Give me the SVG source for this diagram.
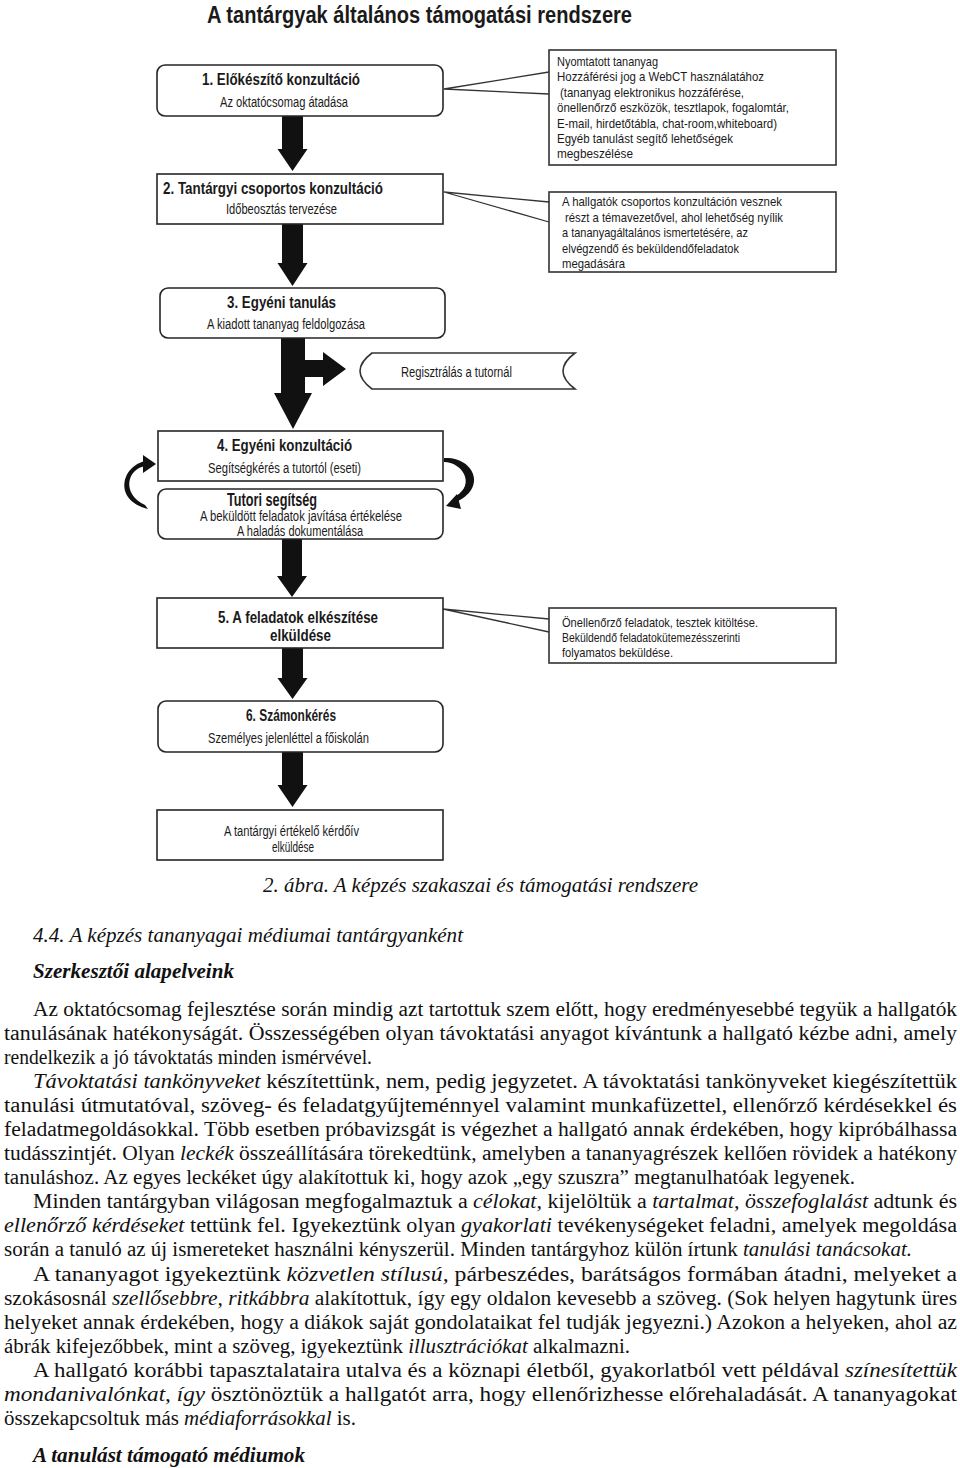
<svg xmlns="http://www.w3.org/2000/svg" width="960" height="1468" viewBox="0 0 960 1468">
<style>
.bg{fill:#ffffff}
.box{fill:#ffffff;stroke:#262626;stroke-width:1.6}
.note{fill:#ffffff;stroke:#333333;stroke-width:1.6}
.s{font-family:"Liberation Sans",Arial,sans-serif;fill:#1a1a1a}
.tb{font-weight:bold;font-size:17px}
.ts{font-size:14px}
.tn{font-size:13.5px}
.arr{fill:#111111}
.call{stroke:#333333;stroke-width:1.3;fill:none}
.b{font-family:"Liberation Serif","Times New Roman",serif;font-size:20px;fill:#111111}
.i{font-style:italic}
.bi{font-style:italic;font-weight:bold}
</style>
<rect class="bg" x="0" y="0" width="960" height="1468"/>

<text id="title" class="s" x="207" y="23" font-size="23" font-weight="bold" textLength="425" lengthAdjust="spacingAndGlyphs">A tantárgyak általános támogatási rendszere</text>

<g id="connectors">
  <polygon class="arr" points="282,116 303,116 303,149 307.5,149 292.5,171 277.5,149 282,149"/>
  <polygon class="arr" points="282,224 303,224 303,263 307.5,263 292.5,286 277.5,263 282,263"/>
  <polygon class="arr" points="281,338 305,338 305,360 323,360 323,352 346,369 323,386 323,377 305,377 305,393 312,393 293,429 274,393 281,393"/>
  <polygon class="arr" points="282,539 302,539 302,576 307,576 292,597 277,576 282,576"/>
  <polygon class="arr" points="282,648 303,648 303,678 307.5,678 292.5,699 277.5,678 282,678"/>
  <polygon class="arr" points="282,752 303,752 303,785 307.5,785 292.5,807 277.5,785 282,785"/>
  <polyline class="call" points="549,72 444,89 549,94"/>
  <polyline class="call" points="549,202 444,192 549,222"/>
  <polyline class="call" points="549,619 443,609 549,632"/>
  <path class="arr" d="M146,461 C122,465 112,500 148,509 L145,505 C121,494 127,468 146,466 Z"/>
  <polygon class="arr" points="143,455 156,464 143,473"/>
  <path class="arr" d="M444,458 C472,456 488,486 458,501 L456,496 C476,484 462,462 444,462 Z"/>
  <polygon class="arr" points="446,506 457,494 461,509"/>
</g>

<g id="box1">
  <rect class="box" x="157" y="65" width="286" height="51" rx="8"/>
  <text class="s tb" x="202" y="85" textLength="158" lengthAdjust="spacingAndGlyphs">1. Előkészítő konzultáció</text>
  <text class="s ts" x="220" y="107" textLength="128" lengthAdjust="spacingAndGlyphs">Az oktatócsomag átadása</text>
</g>

<g id="note1">
  <rect class="note" x="549" y="50" width="287" height="115"/>
  <text class="s tn" x="557" y="66" textLength="101" lengthAdjust="spacingAndGlyphs">Nyomtatott tananyag</text>
  <text class="s tn" x="557" y="81.4" textLength="207" lengthAdjust="spacingAndGlyphs">Hozzáférési jog a WebCT használatához</text>
  <text class="s tn" x="560" y="96.8" textLength="184" lengthAdjust="spacingAndGlyphs">(tananyag elektronikus hozzáférése,</text>
  <text class="s tn" x="557" y="112.2" textLength="232" lengthAdjust="spacingAndGlyphs">önellenőrző eszközök, tesztlapok, fogalomtár,</text>
  <text class="s tn" x="557" y="127.6" textLength="220" lengthAdjust="spacingAndGlyphs">E-mail, hirdetőtábla, chat-room,whiteboard)</text>
  <text class="s tn" x="557" y="143" textLength="176" lengthAdjust="spacingAndGlyphs">Egyéb tanulást segítő lehetőségek</text>
  <text class="s tn" x="557" y="158.4" textLength="76" lengthAdjust="spacingAndGlyphs">megbeszélése</text>
</g>

<g id="box2">
  <rect class="box" x="157" y="174" width="286" height="50"/>
  <text class="s tb" x="163" y="194" textLength="220" lengthAdjust="spacingAndGlyphs">2. Tantárgyi csoportos konzultáció</text>
  <text class="s ts" x="226" y="214" textLength="111" lengthAdjust="spacingAndGlyphs">Időbeosztás tervezése</text>
</g>

<g id="note2">
  <rect class="note" x="549" y="192" width="287" height="80"/>
  <text class="s tn" x="562" y="206" textLength="220" lengthAdjust="spacingAndGlyphs">A hallgatók csoportos konzultáción vesznek</text>
  <text class="s tn" x="565" y="221.5" textLength="218" lengthAdjust="spacingAndGlyphs">részt a témavezetővel, ahol lehetőség nyílik</text>
  <text class="s tn" x="562" y="237" textLength="186" lengthAdjust="spacingAndGlyphs">a tananyagáltalános ismertetésére, az</text>
  <text class="s tn" x="562" y="252.5" textLength="177" lengthAdjust="spacingAndGlyphs">elvégzendő és beküldendőfeladatok</text>
  <text class="s tn" x="562" y="268" textLength="63" lengthAdjust="spacingAndGlyphs">megadására</text>
</g>

<g id="box3">
  <rect class="box" x="160" y="288" width="285" height="50" rx="8"/>
  <text class="s tb" x="227" y="308" textLength="109" lengthAdjust="spacingAndGlyphs">3. Egyéni tanulás</text>
  <text class="s ts" x="207" y="329" textLength="158" lengthAdjust="spacingAndGlyphs">A kiadott tananyag feldolgozása</text>
</g>

<g id="reg">
  <path class="note" d="M372,353 L575,353 Q551,371 575,389 L372,389 Q348,371 372,353 Z"/>
  <text class="s ts" x="401" y="377" textLength="111" lengthAdjust="spacingAndGlyphs">Regisztrálás a tutornál</text>
</g>

<g id="box4">
  <rect class="box" x="158" y="431" width="285" height="50"/>
  <text class="s tb" x="217" y="451" textLength="135" lengthAdjust="spacingAndGlyphs">4. Egyéni konzultáció</text>
  <text class="s ts" x="208" y="473" textLength="153" lengthAdjust="spacingAndGlyphs">Segítségkérés a tutortól (eseti)</text>
</g>

<g id="tutor">
  <rect class="box" x="158" y="489" width="285" height="50" rx="8"/>
  <text class="s" x="227" y="506" font-size="18.5" font-weight="bold" textLength="90" lengthAdjust="spacingAndGlyphs">Tutori segítség</text>
  <text class="s ts" x="200" y="521" textLength="202" lengthAdjust="spacingAndGlyphs">A beküldött feladatok javítása értékelése</text>
  <text class="s ts" x="237" y="536" textLength="126" lengthAdjust="spacingAndGlyphs">A haladás dokumentálása</text>
</g>

<g id="box5">
  <rect class="box" x="157" y="598" width="286" height="50"/>
  <text class="s tb" x="218" y="623" textLength="160" lengthAdjust="spacingAndGlyphs">5. A feladatok elkészítése</text>
  <text class="s tb" x="270" y="641" textLength="61" lengthAdjust="spacingAndGlyphs">elküldése</text>
</g>

<g id="note3">
  <rect class="note" x="549" y="608" width="287" height="55"/>
  <text class="s tn" x="562" y="627" textLength="196" lengthAdjust="spacingAndGlyphs">Önellenőrző feladatok, tesztek kitöltése.</text>
  <text class="s tn" x="562" y="642" textLength="178" lengthAdjust="spacingAndGlyphs">Beküldendő feladatokütemezésszerinti</text>
  <text class="s tn" x="562" y="657" textLength="111" lengthAdjust="spacingAndGlyphs">folyamatos beküldése.</text>
</g>

<g id="box6">
  <rect class="box" x="158" y="701" width="285" height="51" rx="8"/>
  <text class="s tb" x="246" y="721" textLength="90" lengthAdjust="spacingAndGlyphs">6. Számonkérés</text>
  <text class="s ts" x="208" y="743" textLength="161" lengthAdjust="spacingAndGlyphs">Személyes jelenléttel a főiskolán</text>
</g>

<g id="box7">
  <rect class="box" x="157" y="810" width="286" height="50"/>
  <text class="s ts" x="224" y="836" textLength="135" lengthAdjust="spacingAndGlyphs">A tantárgyi értékelő kérdőív</text>
  <text class="s ts" x="272" y="852" textLength="42" lengthAdjust="spacingAndGlyphs">elküldése</text>
</g>

<text class="b i" x="263" y="892" font-size="19" textLength="435" lengthAdjust="spacingAndGlyphs">2. ábra. A képzés szakaszai és támogatási rendszere</text>

<text class="b i" x="33" y="942" textLength="430" lengthAdjust="spacingAndGlyphs">4.4. A képzés tananyagai médiumai tantárgyanként</text>
<text class="b bi" x="33" y="978" textLength="201" lengthAdjust="spacingAndGlyphs">Szerkesztői alapelveink</text>

<text class="b" x="33" y="1016" textLength="924" lengthAdjust="spacingAndGlyphs">Az oktatócsomag fejlesztése során mindig azt tartottuk szem előtt, hogy eredményesebbé tegyük a hallgatók</text>
<text class="b" x="4" y="1040" textLength="953" lengthAdjust="spacingAndGlyphs">tanulásának hatékonyságát. Összességében olyan távoktatási anyagot kívántunk a hallgató kézbe adni, amely</text>
<text class="b" x="4" y="1064" textLength="368" lengthAdjust="spacingAndGlyphs">rendelkezik a jó távoktatás minden ismérvével.</text>
<text class="b" x="33" y="1088" textLength="924" lengthAdjust="spacingAndGlyphs"><tspan class="i">Távoktatási tankönyveket</tspan> készítettünk, nem, pedig jegyzetet. A távoktatási tankönyveket kiegészítettük</text>
<text class="b" x="4" y="1112" textLength="953" lengthAdjust="spacingAndGlyphs">tanulási útmutatóval, szöveg- és feladatgyűjteménnyel valamint munkafüzettel, ellenőrző kérdésekkel és</text>
<text class="b" x="4" y="1136" textLength="953" lengthAdjust="spacingAndGlyphs">feladatmegoldásokkal. Több esetben próbavizsgát is végezhet a hallgató annak érdekében, hogy kipróbálhassa</text>
<text class="b" x="4" y="1160" textLength="953" lengthAdjust="spacingAndGlyphs">tudásszintjét. Olyan <tspan class="i">leckék</tspan> összeállítására törekedtünk, amelyben a tananyagrészek kellően rövidek a hatékony</text>
<text class="b" x="4" y="1184" textLength="851" lengthAdjust="spacingAndGlyphs">tanuláshoz. Az egyes leckéket úgy alakítottuk ki, hogy azok „egy szuszra” megtanulhatóak legyenek.</text>
<text class="b" x="33" y="1208" textLength="924" lengthAdjust="spacingAndGlyphs">Minden tantárgyban világosan megfogalmaztuk a <tspan class="i">célokat,</tspan> kijelöltük a <tspan class="i">tartalmat, összefoglalást</tspan> adtunk és</text>
<text class="b" x="4" y="1232" textLength="953" lengthAdjust="spacingAndGlyphs"><tspan class="i">ellenőrző kérdéseket</tspan> tettünk fel. Igyekeztünk olyan <tspan class="i">gyakorlati</tspan> tevékenységeket feladni, amelyek megoldása</text>
<text class="b" x="4" y="1256" textLength="908" lengthAdjust="spacingAndGlyphs">során a tanuló az új ismereteket használni kényszerül. Minden tantárgyhoz külön írtunk <tspan class="i">tanulási tanácsokat.</tspan></text>
<text class="b" x="33" y="1281" textLength="924" lengthAdjust="spacingAndGlyphs">A tananyagot igyekeztünk <tspan class="i">közvetlen stílusú,</tspan> párbeszédes, barátságos formában átadni, melyeket a</text>
<text class="b" x="4" y="1305" textLength="953" lengthAdjust="spacingAndGlyphs">szokásosnál <tspan class="i">szellősebbre, ritkábbra</tspan> alakítottuk, így egy oldalon kevesebb a szöveg. (Sok helyen hagytunk üres</text>
<text class="b" x="4" y="1329" textLength="953" lengthAdjust="spacingAndGlyphs">helyeket annak érdekében, hogy a diákok saját gondolataikat fel tudják jegyezni.) Azokon a helyeken, ahol az</text>
<text class="b" x="4" y="1353" textLength="626" lengthAdjust="spacingAndGlyphs">ábrák kifejezőbbek, mint a szöveg, igyekeztünk <tspan class="i">illusztrációkat</tspan> alkalmazni.</text>
<text class="b" x="33" y="1377" textLength="924" lengthAdjust="spacingAndGlyphs">A hallgató korábbi tapasztalataira utalva és a köznapi életből, gyakorlatból vett példával <tspan class="i">színesítettük</tspan></text>
<text class="b" x="4" y="1401" textLength="953" lengthAdjust="spacingAndGlyphs"><tspan class="i">mondanivalónkat, így</tspan> ösztönöztük a hallgatót arra, hogy ellenőrizhesse előrehaladását. A tananyagokat</text>
<text class="b" x="4" y="1425" textLength="352" lengthAdjust="spacingAndGlyphs">összekapcsoltuk más <tspan class="i">médiaforrásokkal</tspan> is.</text>

<text class="b bi" x="33" y="1462" textLength="272" lengthAdjust="spacingAndGlyphs">A tanulást támogató médiumok</text>
</svg>
